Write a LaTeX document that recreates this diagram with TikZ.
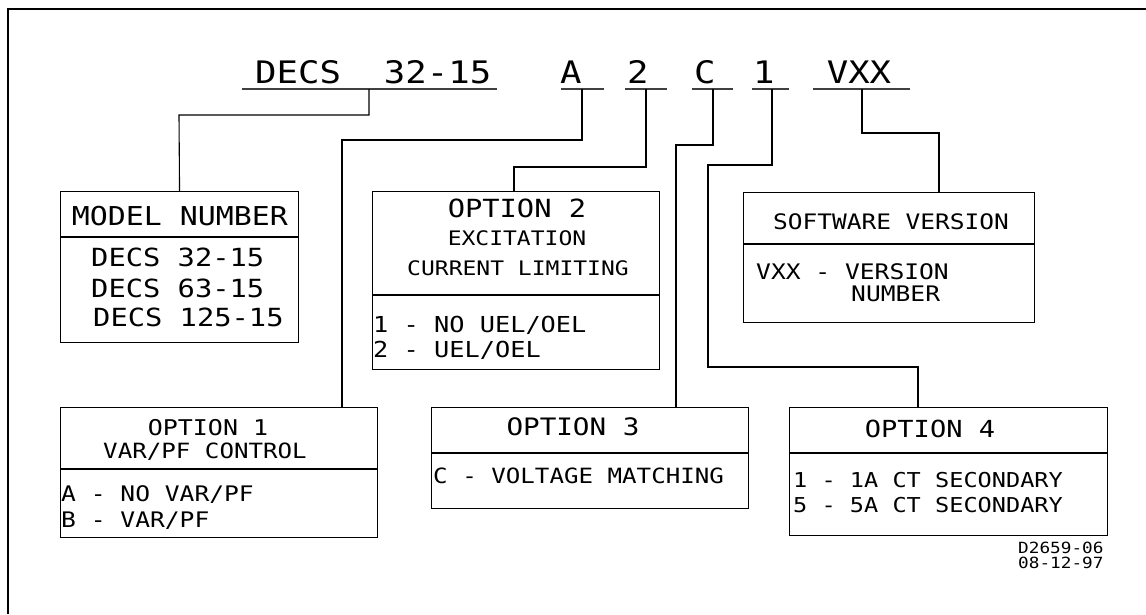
\documentclass[tikz,border=0pt]{standalone}
\usepackage{fontspec}
\newfontfamily\cad[FakeStretch=1.15]{DejaVu Sans Mono}
\begin{document}
\begin{tikzpicture}[x=1pt,y=-1pt,
  txt/.style={inner sep=0pt,font=\cad\fontsize{#1}{#1}\selectfont},
  box/.style={draw,line width=1.1pt,inner sep=0pt,anchor=north west},
  wire/.style={line width=1.1pt},
  uline/.style={line width=1.5pt,black!75},
  divider/.style={line width=1.1pt}]
\useasboundingbox (0,0) rectangle (1146,614);
\draw[line width=1.6pt] (1146,9) -- (8,9) -- (8,614);
% title
\node[txt=31,anchor=base west] (tDecs) at (255,83) {DECS~~32-15};
\node[txt=31,anchor=base west] (tA) at (560,83) {A};
\node[txt=31,anchor=base west] (t2) at (627,83) {2};
\node[txt=31,anchor=base west] (tC) at (694,83) {C};
\node[txt=31,anchor=base west] (t1) at (753,83) {1};
\node[txt=31,anchor=base] (tV) at (859,83) {VXX};
\draw[uline] (242,89) -- (497,89);
\draw[uline] (561,89) -- (604,89);
\draw[uline] (625,89) -- (667,89);
\draw[uline] (692,89) -- (733,89);
\draw[uline] (752,89) -- (789,89);
\draw[uline] (813,89) -- (910,89);
\coordinate (uDecs) at (369,89);
\coordinate (uA) at (582,89);
\coordinate (u2) at (646,89);
\coordinate (uC) at (713,89);
\coordinate (u1) at (772,89);
\coordinate (uV) at (862,89);
% boxes
\node[box,minimum width=238pt,minimum height=151pt] (model) at (60,191) {};
\node[box,minimum width=287pt,minimum height=178pt] (opt2) at (372,191) {};
\node[box,minimum width=291pt,minimum height=130pt] (soft) at (743,192) {};
\node[box,minimum width=317pt,minimum height=130pt] (opt1) at (60,407) {};
\node[box,minimum width=317pt,minimum height=101pt] (opt3) at (431,407) {};
\node[box,minimum width=318pt,minimum height=128pt] (opt4) at (789,407) {};
\draw[divider] (model.west |- 0,237) -- (model.east |- 0,237);
\draw[divider] (opt2.west |- 0,295) -- (opt2.east |- 0,295);
\draw[divider] (soft.west |- 0,244) -- (soft.east |- 0,244);
\draw[divider] (opt1.west |- 0,469) -- (opt1.east |- 0,469);
\draw[divider] (opt3.west |- 0,453) -- (opt3.east |- 0,453);
\draw[divider] (opt4.west |- 0,453) -- (opt4.east |- 0,453);
% connectors
\draw[wire] (uDecs) |- (179,115) -- (model.north);
\draw[wire] (uA) |- (342,140) -- (342,0 |- opt1.north);
\draw[wire] (u2) |- (514,167) -- (514,0 |- opt2.north);
\draw[wire] (uC) |- (676,145) -- (676,0 |- opt3.north);
\draw[wire] (u1) |- (708,165) -- (708,367) -| (918,0 |- opt4.north);
\draw[wire] (uV) |- (939,133) -- (939,0 |- soft.north);
% model number
\node[txt=26,anchor=base] (mH) at (180,225) {MODEL NUMBER};
\node[txt=25,anchor=base west] (m1) at (91,266) {DECS 32-15};
\node[txt=25,anchor=base west] (m2) at (91,297) {DECS 63-15};
\node[txt=25,anchor=base west] (m3) at (93,326) {DECS 125-15};
% option 2
\node[txt=25,anchor=base] (o2H) at (517,217) {OPTION 2};
\node[txt=20,anchor=base] (o2a) at (517,245) {EXCITATION};
\node[txt=20,anchor=base] (o2b) at (518,275) {CURRENT LIMITING};
\node[txt=22,anchor=base west] (o2c) at (373,332) {1 - NO UEL/OEL};
\node[txt=22,anchor=base west] (o2d) at (373,357) {2 - UEL/OEL};
% software
\node[txt=21.3,anchor=base] (sH) at (891,229) {SOFTWARE VERSION};
\node[txt=21.4,anchor=base west] (s1) at (756,279) {VXX - VERSION};
\node[txt=21.4,anchor=base west] (s2) at (851,301) {NUMBER};
% option 1
\node[txt=21.7,anchor=base] (o1H) at (208,435) {OPTION 1};
\node[txt=21,anchor=base] (o1a) at (205,458) {VAR/PF CONTROL};
\node[txt=21.4,anchor=base west] (o1b) at (61,501) {A - NO VAR/PF};
\node[txt=21.4,anchor=base west] (o1c) at (61,527) {B - VAR/PF};
% option 3
\node[txt=24,anchor=base] (o3H) at (573,435) {OPTION 3};
\node[txt=21,anchor=base west] (o3a) at (433,483) {C - VOLTAGE MATCHING};
% option 4
\node[txt=23.5,anchor=base] (o4H) at (930,437) {OPTION 4};
\node[txt=20.5,anchor=base west] (o4a) at (793,487) {1 - 1A CT SECONDARY};
\node[txt=20.5,anchor=base west] (o4b) at (793,512) {5 - 5A CT SECONDARY};
% drawing id
\node[txt=15.4,anchor=base west] (id1) at (1018,553) {D2659-06};
\node[txt=15.4,anchor=base west] (id2) at (1018,568) {08-12-97};
\end{tikzpicture}
\end{document}
